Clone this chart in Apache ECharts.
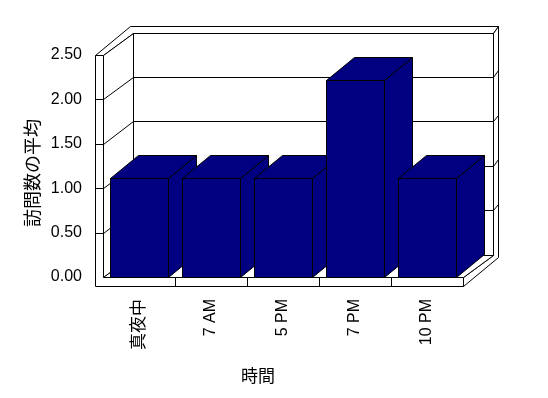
<!DOCTYPE html>
<html>
<head>
<meta charset="utf-8">
<script src="https://cdn.jsdelivr.net/npm/echarts@6/dist/echarts.min.js"></script>
<style>
html,body{margin:0;padding:0;background:#fff;}
#chart{width:548px;height:398px;}
</style>
</head>
<body>
<div id="chart"></div>
<script>
// ---- data ----
const categories = ['真夜中', '7 AM', '5 PM', '7 PM', '10 PM'];
const visits = [1.11, 1.11, 1.11, 2.22, 1.11];
const yTickValues = [0, 0.5, 1, 1.5, 2, 2.5];
const yAxisTitle = '訪問数の平均';
const xAxisTitle = '時間';

// ---- style constants ----
const FONT = "'Liberation Sans', 'Noto Sans CJK JP', sans-serif";
const DEPTH = [29.5, -22.5];     // plot depth offset
const BAR_DEPTH = [28, -23];     // bar depth offset
const BACK_T = [5, -6.5];        // back wall thickness
const WALL_W = 8;                // left wall thickness
const FLOOR_T = 9;               // floor thickness
const NAVY = '#000080';

const px = v => Math.round(v) + 0.5;
const poly = (pts, fill) => ({
  type: 'polygon',
  shape: { points: pts.map(p => [px(p[0]), px(p[1])]) },
  style: { fill: fill, stroke: '#000', lineWidth: 1 }
});
const line = (x1, y1, x2, y2) => ({
  type: 'line',
  shape: { x1: px(x1), y1: px(y1), x2: px(x2), y2: px(y2) },
  style: { stroke: '#000', lineWidth: 1, fill: null }
});

function renderWalls(params, api) {
  const cs = params.coordSys;
  const L = cs.x, R = cs.x + cs.width, T = cs.y, B = cs.y + cs.height;
  const dx = DEPTH[0], dy = DEPTH[1], tx = BACK_T[0], ty = BACK_T[1];
  const W = WALL_W, F = FLOOR_T;
  const c = [];
  c.push(poly([[L + dx, T + dy], [R + dx, T + dy], [R + dx, B + dy], [L + dx, B + dy]], '#fff'));
  c.push(poly([[L - W, T], [L - W + dx + tx, T + dy + ty], [R + dx + tx, T + dy + ty], [R + dx, T + dy], [L + dx, T + dy], [L, T]], '#fff'));
  c.push(poly([[R + dx, T + dy], [R + dx + tx, T + dy + ty], [R + dx + tx, B + F + dy + ty], [R, B + F], [R, B], [R + dx, B + dy]], '#fff'));
  c.push(poly([[L, T], [L + dx, T + dy], [L + dx, B + dy], [L, B]], '#fff'));
  c.push(poly([[L, B], [R, B], [R + dx, B + dy], [L + dx, B + dy]], '#fff'));
  c.push(poly([[L - W, T], [L, T], [L, B], [R, B], [R, B + F], [L - W, B + F]], '#fff'));
  const yMax = yTickValues[yTickValues.length - 1];
  yTickValues.forEach(v => {
    const y = api.coord([0, v])[1];
    if (v > 0 && v < yMax) {
      c.push(line(L + dx, y + dy, R + dx, y + dy));
      c.push(line(L, y, L + dx, y + dy));
      c.push(line(R + dx, y + dy, R + dx + tx, y + dy + ty));
      c.push(line(L - W, y, L, y));
    }
  });
  const cw = api.size([1, 0])[0];
  for (let i = 1; i < categories.length; i++) {
    const x = api.coord([i, 0])[0] - cw / 2;
    c.push(line(x, B, x, B + F));
  }
  return { type: 'group', children: c };
}

function renderBar(params, api) {
  const i = api.value(0), v = api.value(1);
  const top = api.coord([i, v]);
  const base = api.coord([i, 0]);
  const bw = api.size([1, 0])[0] * 0.8;
  const x0 = top[0] - bw / 2, x1 = top[0] + bw / 2, y0 = base[1], y1 = top[1];
  const dx = BAR_DEPTH[0], dy = BAR_DEPTH[1];
  return {
    type: 'group',
    children: [
      poly([[x1, y1], [x1 + dx, y1 + dy], [x1 + dx, y0 + dy], [x1, y0]], NAVY),
      poly([[x0, y1], [x0 + dx, y1 + dy], [x1 + dx, y1 + dy], [x1, y1]], NAVY),
      poly([[x0, y1], [x1, y1], [x1, y0], [x0, y0]], NAVY)
    ]
  };
}

const chart = echarts.init(document.getElementById('chart'), null, { renderer: 'canvas' });
chart.setOption({
  animation: false,
  backgroundColor: '#fff',
  textStyle: { fontFamily: FONT },
  grid: { left: 103, right: 85, top: 55, bottom: 121, containLabel: false },
  xAxis: {
    type: 'category',
    data: categories.map(c => /[^\x00-\x7f]/.test(c) ? { value: c, textStyle: { fontSize: 17 } } : c),
    axisLine: { show: false },
    axisTick: { show: false },
    splitLine: { show: false },
    axisLabel: { rotate: 90, margin: 22, color: '#000', fontSize: 16, fontFamily: FONT, interval: 0 }
  },
  yAxis: {
    type: 'value',
    min: 0, max: 2.5, interval: 0.5,
    axisLine: { show: false },
    axisTick: { show: false },
    splitLine: { show: false },
    axisLabel: { margin: 21, color: '#000', fontSize: 16, fontFamily: FONT, formatter: v => v.toFixed(2) }
  },
  graphic: [
    { type: 'text', x: 32, y: 173, rotation: Math.PI / 2,
      style: { text: yAxisTitle, fill: '#000', font: "18px 'Noto Sans CJK JP', sans-serif", align: 'center', verticalAlign: 'middle' } },
    { type: 'text', x: 258, y: 376,
      style: { text: xAxisTitle, fill: '#000', font: "17px 'Noto Sans CJK JP', sans-serif", align: 'center', verticalAlign: 'middle' } }
  ],
  series: [
    { type: 'custom', name: 'walls', renderItem: renderWalls, data: [[0, 0]], z: 1, silent: true, clip: false },
    { type: 'custom', name: '訪問数の平均', renderItem: renderBar,
      data: visits.map((v, i) => [i, v]), z: 2, clip: false }
  ]
});
</script>
</body>
</html>
